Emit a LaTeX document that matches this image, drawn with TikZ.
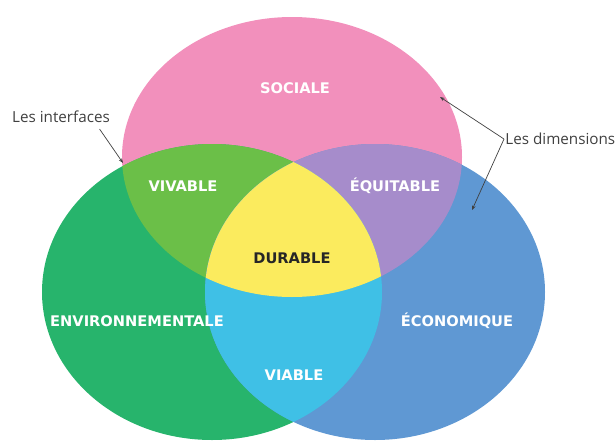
\documentclass[tikz,border=0pt]{standalone}
\usepackage{fontspec}
\setmainfont{Open Sans}
\newfontfamily\heavyfont{DejaVu Sans}[BoldFont={DejaVu Sans Bold}]
\usetikzlibrary{arrows.meta}

\definecolor{sociale}{HTML}{F290BC}
\definecolor{environ}{HTML}{27B46C}
\definecolor{econom}{HTML}{5F98D3}
\definecolor{vivable}{HTML}{6BBF48}
\definecolor{equitable}{HTML}{A68CCB}
\definecolor{viable}{HTML}{3FC0E6}
\definecolor{durable}{HTML}{FBEB5E}

\begin{document}
\begin{tikzpicture}[x=0.03cm,y=-0.03cm,
    dim/.style={font=\heavyfont\bfseries\fontsize{12.5}{13}\selectfont, text=white},
    note/.style={font=\fontsize{13}{14}\selectfont, text=black!75, inner sep=1pt},
    arr/.style={black!75, line width=0.6pt, -{Stealth[length=4pt,width=3pt]}}]
        \useasboundingbox (0,0) rectangle (616,446);

        % les trois dimensions
        \coordinate (S) at (292,157);
        \coordinate (E) at (212,292);
        \coordinate (C) at (375,292);
        \fill[sociale] (S) ellipse [x radius=170, y radius=140];
        \fill[environ] (E) ellipse [x radius=170, y radius=148];
        \fill[econom] (C) ellipse [x radius=170, y radius=148];

        % les interfaces
        \begin{scope}
          \clip (S) ellipse [x radius=170, y radius=140];
          \fill[vivable] (E) ellipse [x radius=170, y radius=148];
          \fill[equitable] (C) ellipse [x radius=170, y radius=148];
        \end{scope}
        \begin{scope}
          \clip (E) ellipse [x radius=170, y radius=148];
          \fill[viable] (C) ellipse [x radius=170, y radius=148];
        \end{scope}
        \begin{scope}
          \clip (S) ellipse [x radius=170, y radius=140];
          \clip (E) ellipse [x radius=170, y radius=148];
          \fill[durable] (C) ellipse [x radius=170, y radius=148];
        \end{scope}

        \node[dim] (sociale) at (295,88) {SOCIALE};
        \node[dim] (vivable) at (183,186) {VIVABLE};
        \node[dim] (equitable) at (395,186) {ÉQUITABLE};
        \node[dim, text=black!85] (durable) at (292,258) {DURABLE};
        \node[dim] (environ) at (137,321) {ENVIRONNEMENTALE};
        \node[dim] (econom) at (457,321) {ÉCONOMIQUE};
        \node[dim] (viable) at (294,375) {VIABLE};

        % les annotations
        \node[note] (interfaces) at (61,117) {Les interfaces};
        \node[note, anchor=west] (dims) at (504,139) {Les dimensions};

        \coordinate (P) at (123,163);
        \coordinate (Q) at (440,97);
        \coordinate (R) at (472,210);
        \draw[arr] ([xshift=-10pt,yshift=-4pt]interfaces.south east) -- (P);
        \draw[arr] (dims.west) -- (Q);
        \draw[arr] (dims.west) -- (R);
      \end{tikzpicture}
\end{document}
